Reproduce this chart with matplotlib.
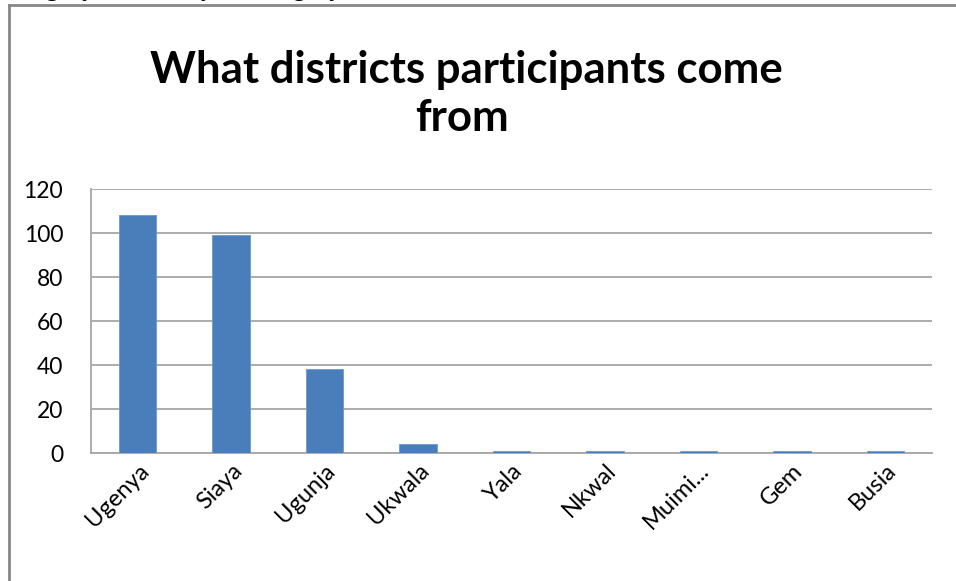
import matplotlib.pyplot as plt
from matplotlib.lines import Line2D

# participants per district
districts = ['Ugenya', 'Siaya', 'Ugunja', 'Ukwala', 'Yala', 'Nkwal', 'Muimi...', 'Gem', 'Busia']
counts = [108, 99, 38, 4, 1, 1, 1, 1, 1]
y_ticks = [0, 20, 40, 60, 80, 100, 120]

plt.rcParams['font.family'] = ['Lato', 'DejaVu Sans']

W, H = 956, 581
fig = plt.figure(figsize=(W / 100, H / 100), dpi=100)
fig.patch.set_facecolor('white')

# paragraph text running above the chart, mostly cut off by the page edge
caption = ', '.join(f'{d.rstrip(".")}: {c}' for d, c in zip(districts[:-1], counts[:-1]))
fig.text(28 / W, 1 + 4 / H, caption, family='Liberation Serif', fontsize=18,
         va='baseline', ha='left', color='black')

# chart frame
frame_col = '#878787'
fig.add_artist(Line2D([9 / W, 1.01], [1 - 5 / H, 1 - 5 / H], transform=fig.transFigure,
                      color=frame_col, lw=2))
fig.add_artist(Line2D([9 / W, 9 / W], [1 - 5 / H, -0.01], transform=fig.transFigure,
                      color=frame_col, lw=2))

ax = fig.add_axes([91 / W, 1 - 453 / H, (932 - 91) / W, (453 - 189) / H])
x = range(len(districts))
ax.bar(x, counts, width=0.4, color='#4A7EBB', edgecolor='#6A98CF', linewidth=0.6, zorder=3)

ax.set_xlim(-0.5, len(districts) - 0.5)
ax.set_ylim(0, 120)
ax.set_yticks(y_ticks)
ax.set_yticklabels([str(v) for v in y_ticks], fontsize=16.5)
ax.set_xticks(list(x))
ax.set_xticklabels(districts, fontsize=17, rotation=45, ha='right',
                   rotation_mode='anchor')
ax.tick_params(length=0)
ax.tick_params(axis='y', pad=20)
ax.tick_params(axis='x', pad=5)

ax.grid(axis='y', color='#A6A6A6', lw=1.3, zorder=0)
for side in ['top', 'right']:
    ax.spines[side].set_visible(False)
for side in ['left', 'bottom']:
    ax.spines[side].set_color('#A6A6A6')
    ax.spines[side].set_linewidth(1.3)

fig.text(466 / W, 1 - 83 / H, 'What districts participants come', fontsize=31.5,
         fontweight='bold', ha='center', va='baseline')
fig.text(462 / W, 1 - 131 / H, 'from', fontsize=31.5,
         fontweight='bold', ha='center', va='baseline')

fig.savefig('out.png', dpi=100)
